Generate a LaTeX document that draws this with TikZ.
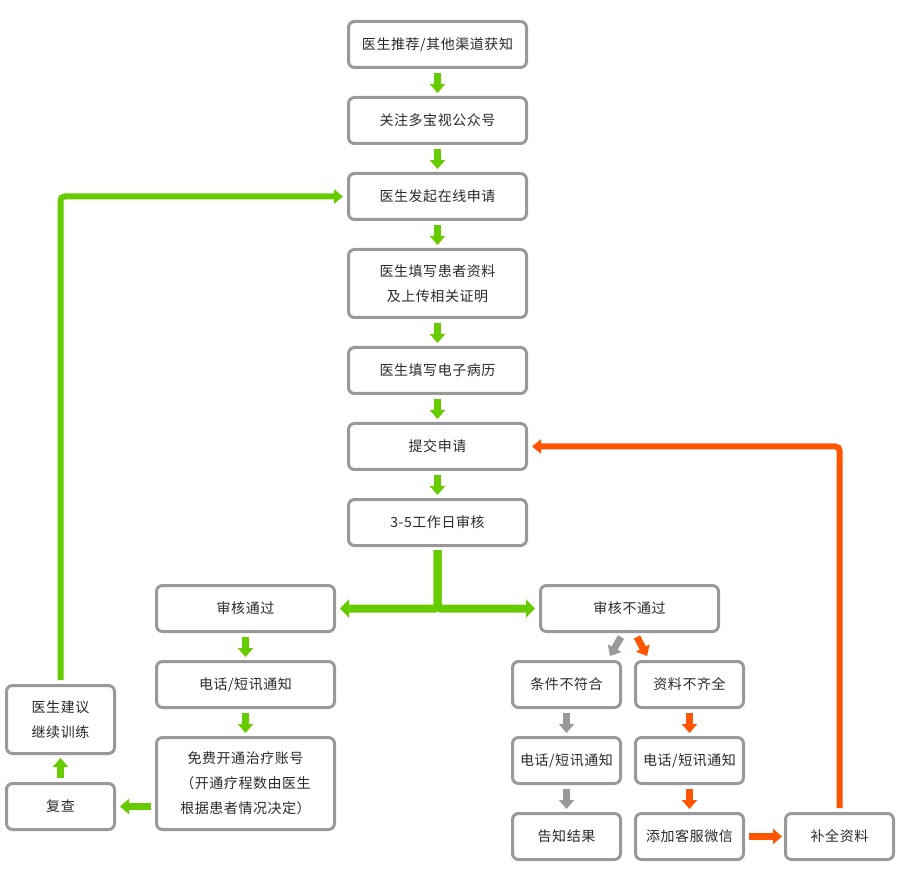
\documentclass[tikz,border=0pt]{standalone}
\usepackage{fontspec}
\setmainfont[LetterSpace=4]{Noto Sans CJK SC}
\usepackage{tikz}
\usetikzlibrary{arrows.meta, positioning}
\usepackage[]{xcolor}
\definecolor{green}{HTML}{66CC00}
\definecolor{orange}{HTML}{FF5500}
\definecolor{grey}{HTML}{999999}
\definecolor{ink}{HTML}{2A2A2A}
\tikzstyle{block} = [rectangle, draw=grey, line width=3pt, rounded corners=6pt, fill=white, text=ink, text centered, align=center, font=\fontsize{14pt}{25pt}\selectfont, minimum width=178pt, minimum height=46pt, inner sep=0pt]
\tikzstyle{blocks} = [block, minimum width=108pt]
\tikzset{
	stepg/.style={draw=green, line width=7pt, -{Triangle[width=15pt,length=9pt]}, shorten <=4pt, shorten >=3pt},
	stepo/.style={stepg, draw=orange},
	stepgr/.style={stepg, draw=grey},
	loopg/.style={draw=green, line width=6pt, rounded corners=4pt, -{Triangle[width=14pt,length=9pt]}, shorten <=4pt, shorten >=4pt},
	loopo/.style={loopg, draw=orange},
	split/.style={draw=green, line width=8pt, rounded corners=3pt, -{Triangle[width=18pt,length=9pt]}, shorten <=3pt, shorten >=4pt}
	}
\begin{document}
\begin{tikzpicture}[x=1pt, y=-1pt, node distance=27pt]
	\useasboundingbox (0,0) rectangle (900,874);
	% main column
	\node [block] (source) at (437.5,44.5) {医生推荐/其他渠道获知};
	\node [block, below=of source] (follow) {关注多宝视公众号};
	\node [block, below=of follow] (apply) {医生发起在线申请};
	\node [block, below=of apply, minimum height=68pt] (fill) {医生填写患者资料\\及上传相关证明};
	\node [block, below=of fill] (record) {医生填写电子病历};
	\node [block, below=of record] (submit) {提交申请};
	\node [block, below=of submit] (review) {3-5工作日审核};
	
	% passed
	\node [block] (pass) at (245.5,608.5) {审核通过};
	\node [block, below=of pass] (notifyp) {电话/短讯通知};
	\node [block, below=of notifyp, minimum height=92pt] (account) {免费开通治疗账号\\（开通疗程数由医生\\根据患者情况决定）};
	\node [blocks] (recheck) at (60.5,806.5) {复查};
	\node [blocks, above=of recheck, minimum height=68pt] (advise) {医生建议\\继续训练};
	
	% not passed
	\node [block] (fail) at (629.5,608.5) {审核不通过};
	\node [blocks] (unfit) at (566.5,684.5) {条件不符合};
	\node [blocks, below=of unfit] (notifyu) {电话/短讯通知};
	\node [blocks, below=of notifyu] (result) {告知结果};
	\node [blocks] (lack) at (689.5,684.5) {资料不齐全};
	\node [blocks, below=of lack] (notifyl) {电话/短讯通知};
	\node [blocks, below=of notifyl] (wechat) {添加客服微信};
	\node [blocks, right=39pt of wechat] (supply) {补全资料};
	
	\draw[stepg] (source) -- (follow);
	\draw[stepg] (follow) -- (apply);
	\draw[stepg] (apply) -- (fill);
	\draw[stepg] (fill) -- (record);
	\draw[stepg] (record) -- (submit);
	\draw[stepg] (submit) -- (review);
	\draw[split] (review.south) |- (pass.east);
	\draw[split] (review.south) |- (fail.west);
	
	\draw[stepg] (pass) -- (notifyp);
	\draw[stepg] (notifyp) -- (account);
	\draw[stepg, shorten >=4pt] (account.west |- recheck) -- (recheck.east);
	\draw[stepg] (recheck) -- (advise);
	\draw[loopg] (advise.north) |- (apply.west);
	
	\draw[stepgr, shorten <=0pt, shorten >=0pt] ([xshift=-8.5pt,yshift=-4pt]fail.south) -- ++(-11,19);
	\draw[stepo, shorten <=0pt, shorten >=0pt] ([xshift=7.5pt,yshift=-4pt]fail.south) -- ++(10,19);
	\draw[stepgr] (unfit) -- (notifyu);
	\draw[stepgr] (notifyu) -- (result);
	\draw[stepo] (lack) -- (notifyl);
	\draw[stepo] (notifyl) -- (wechat);
	\draw[stepo, shorten >=2pt] (wechat) -- (supply);
	\draw[loopo] (supply.north) |- (submit.east);
\end{tikzpicture}
\end{document}
